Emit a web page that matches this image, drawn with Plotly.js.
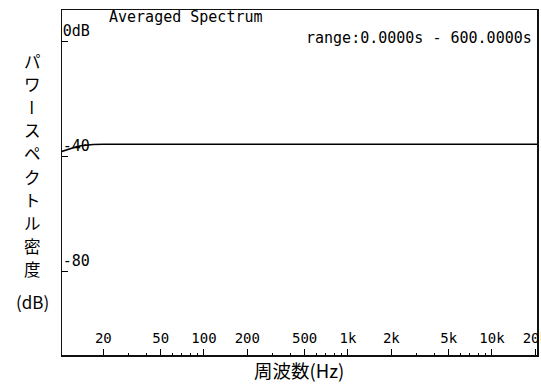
<!DOCTYPE html>
<html>
<head>
<meta charset="utf-8">
<script src="https://cdn.plot.ly/plotly-3.0.1.min.js"></script>
<style>
html,body{margin:0;padding:0;background:#fff;}
#chart{width:541px;height:386px;}
</style>
</head>
<body>
<div id="chart"></div>
<script>
// ---- data ----
const freqHz = [10.3, 11, 12, 13, 14, 15, 17, 20, 30, 50, 100, 200, 500, 1000, 2000, 5000, 10000, 20000, 20800];
const psdDb  = [-38.1, -37.6, -37.0, -36.5, -36.1, -35.9, -35.7, -35.6, -35.6, -35.6, -35.6, -35.6, -35.6, -35.6, -35.6, -35.6, -35.6, -35.6, -35.6];
const xTickVals = [20, 50, 100, 200, 500, 1000, 2000, 5000, 10000, 20000];
const xTickText = ['20', '50', '100', '200', '500', '1k', '2k', '5k', '10k', '20k'];
const xMinorVals = [30, 40, 60, 70, 80, 90, 300, 400, 600, 700, 800, 900, 3000, 4000, 6000, 7000, 8000, 9000];
const yTickVals = [0, -40, -80];
const yTickText = ['0dB', '-40', '-80'];
const yTitleChars = ['パ', 'ワ', 'ー', 'ス', 'ペ', 'ク', 'ト', 'ル', '密', '度'];
const yTitleUnit = '(dB)';
const xTitleText = '周波数(Hz)';
const plotTitle = 'Averaged Spectrum';
const rangeText = 'range:0.0000s - 600.0000s';

// ---- layout constants ----
const W = 541, H = 386;
const L = 62, R = 537, T = 10, B = 355;
const pw = R - L, ph = B - T;
const px = (x) => (x - L) / pw;
const py = (y) => (B - y) / ph;
const mono = 'DejaVu Sans Mono, Liberation Mono, monospace';
const jp = 'Noto Sans CJK JP, sans-serif';

const annotations = [];
annotations.push({text: plotTitle, xref: 'paper', yref: 'paper', x: px(107), y: py(17),
  xanchor: 'left', yanchor: 'middle', showarrow: false, font: {family: mono, size: 15, color: '#000'}});
annotations.push({text: rangeText, xref: 'paper', yref: 'paper', x: px(534), y: py(38),
  xanchor: 'right', yanchor: 'middle', showarrow: false, font: {family: mono, size: 15, color: '#000'}});
const charTop = 61, charPitch = 23.1;
yTitleChars.forEach((c, i) => {
  annotations.push({text: c, xref: 'paper', yref: 'paper', x: px(32), y: py(charTop + i * charPitch),
    xanchor: 'center', yanchor: 'middle', showarrow: false, textangle: (c === 'ー' ? 90 : 0),
    borderpad: 0, font: {family: jp, size: 16.5, color: '#000'}});
});
annotations.push({text: yTitleUnit, xref: 'paper', yref: 'paper', x: px(32), y: py(301),
  xanchor: 'center', yanchor: 'middle', showarrow: false, font: {family: jp, size: 17, color: '#000'}});
annotations.push({text: xTitleText, xref: 'paper', yref: 'paper', x: px(299), y: py(370),
  xanchor: 'center', yanchor: 'middle', showarrow: false, font: {family: jp, size: 18.5, color: '#000'}});

const trace = {
  x: freqHz, y: psdDb, type: 'scatter', mode: 'lines',
  line: {color: '#000', width: 1.6}, hoverinfo: 'skip'
};

const layout = {
  width: W, height: H,
  margin: {l: L, r: W - R, t: T, b: H - B, pad: 0},
  paper_bgcolor: '#fff', plot_bgcolor: '#fff',
  showlegend: false,
  xaxis: {
    type: 'log', range: [Math.log10(10.33), Math.log10(20540)],
    tickmode: 'array', tickvals: xTickVals, ticktext: xTickText,
    ticks: 'inside', ticklen: 6, tickwidth: 1, tickcolor: '#000',
    ticklabelposition: 'inside', ticklabeloverflow: 'allow', ticklabelstandoff: 3,
    tickfont: {family: mono, size: 14, color: '#000'},
    minor: {tickmode: 'array', tickvals: xMinorVals, ticks: 'inside', ticklen: 2, tickwidth: 1, tickcolor: '#000', showgrid: false},
    showline: true, linecolor: '#111', linewidth: 1.5, mirror: true,
    showgrid: false, zeroline: false, fixedrange: true
  },
  yaxis: {
    range: [-108.9, 11.1],
    tickmode: 'array', tickvals: yTickVals, ticktext: yTickText,
    ticks: 'inside', ticklen: 6, tickwidth: 1, tickcolor: '#000',
    ticklabelposition: 'inside top',
    tickfont: {family: mono, size: 15, color: '#000'},
    showline: true, linecolor: '#111', linewidth: 1.5, mirror: true,
    showgrid: false, zeroline: false, fixedrange: true
  },
  annotations: annotations
};

Plotly.newPlot('chart', [trace], layout, {displayModeBar: false, staticPlot: true});
</script>
</body>
</html>
